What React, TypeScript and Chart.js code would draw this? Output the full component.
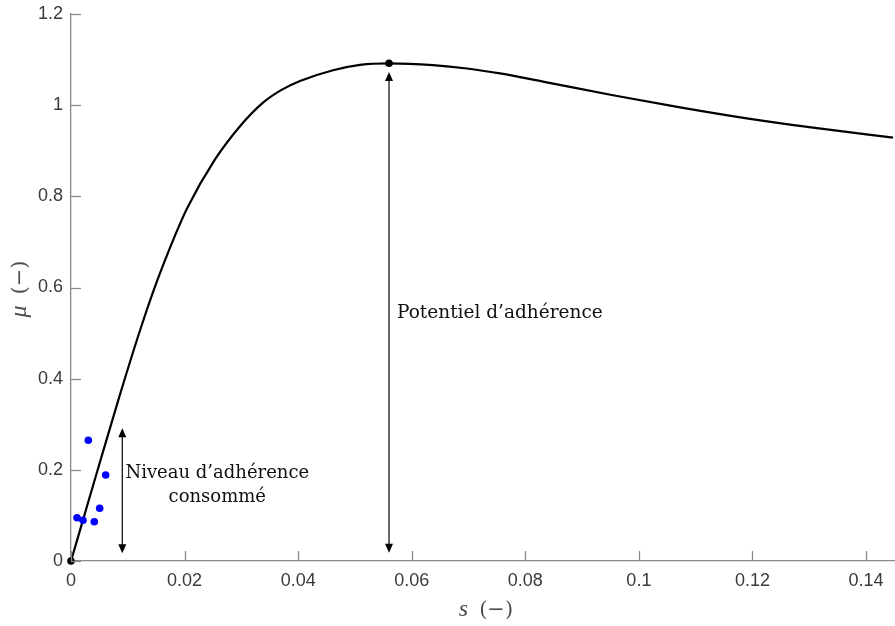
import React, { useEffect, useRef } from "react";
import { Chart, registerables } from "chart.js";

Chart.register(...registerables);

// Friction curve mu(s)
const curveS = [0, 0.002377, 0.004755, 0.008277, 0.011975, 0.014616, 0.018491, 0.020428, 0.025359, 0.029761, 0.033812, 0.03707, 0.040327, 0.046139, 0.050893, 0.056, 0.063749, 0.069737, 0.075548, 0.083772, 0.095448, 0.107247, 0.118993, 0.130668, 0.144757];
const curveMu = [0, 0.1013, 0.2025, 0.3508, 0.4991, 0.5961, 0.7192, 0.7735, 0.881, 0.9539, 1.0055, 1.0335, 1.053, 1.0767, 1.0885, 1.0918, 1.0879, 1.0805, 1.0696, 1.0501, 1.0218, 0.9953, 0.9712, 0.9507, 0.9288];

// Blue measured samples
const sampleS = [0.00305, 0.00611, 0.00505, 0.00106, 0.00211, 0.0041];
const sampleMu = [0.2648, 0.1887, 0.1156, 0.095, 0.0893, 0.0862];

// Black markers (origin and peak)
const markerS = [0, 0.056];
const markerMu = [0, 1.0918];

// Arrows: [s, muFrom, muTo]
const arrowPotentiel = [0.056, 0.018, 1.073];
const arrowNiveau = [0.00903, 0.017, 0.291];

// Axis ticks
const xTicks = [0, 0.02, 0.04, 0.06, 0.08, 0.1, 0.12, 0.14];
const yTicks = [0, 0.2, 0.4, 0.6, 0.8, 1, 1.2];
const xMax = 0.1451;
const yMax = 1.2;

const labelPotentiel = "Potentiel d\u2019adh\u00e9rence";
const labelNiveau = ["Niveau d\u2019adh\u00e9rence", "consomm\u00e9"];

const AXIS_COLOR = "#8a8a8a";
const TICK_TEXT = "#3a3a3a";
const TITLE_COLOR = "#4d4d4d";

const fmt = (v: number) => parseFloat(Number(v).toFixed(4)).toString();

function drawArrow(ctx: CanvasRenderingContext2D, x: number, yTop: number, yBot: number) {
  const hl = 9;
  const hw = 4;
  ctx.save();
  ctx.strokeStyle = "#000";
  ctx.fillStyle = "#000";
  ctx.lineWidth = 1.2;
  ctx.beginPath();
  ctx.moveTo(x, yTop + hl - 1);
  ctx.lineTo(x, yBot - hl + 1);
  ctx.stroke();
  ctx.beginPath();
  ctx.moveTo(x, yTop);
  ctx.lineTo(x - hw, yTop + hl);
  ctx.lineTo(x + hw, yTop + hl);
  ctx.closePath();
  ctx.fill();
  ctx.beginPath();
  ctx.moveTo(x, yBot);
  ctx.lineTo(x - hw, yBot - hl);
  ctx.lineTo(x + hw, yBot - hl);
  ctx.closePath();
  ctx.fill();
  ctx.restore();
}

const overlayPlugin = {
  id: "overlay",
  afterDraw(chart: any) {
    const ctx: CanvasRenderingContext2D = chart.ctx;
    const xs = chart.scales.x;
    const ys = chart.scales.y;
    const area = chart.chartArea;

    // inward tick marks
    ctx.save();
    ctx.strokeStyle = AXIS_COLOR;
    ctx.lineWidth = 1.3;
    xTicks.forEach((t) => {
      const px = Math.round(xs.getPixelForValue(t)) + 0.5;
      ctx.beginPath();
      ctx.moveTo(px, area.bottom);
      ctx.lineTo(px, area.bottom - 10);
      ctx.stroke();
    });
    yTicks.forEach((t) => {
      const py = Math.round(ys.getPixelForValue(t)) + 0.5;
      ctx.beginPath();
      ctx.moveTo(area.left, py);
      ctx.lineTo(area.left + 10, py);
      ctx.stroke();
    });
    ctx.restore();

    // arrows
    const pa = arrowPotentiel;
    const xa = xs.getPixelForValue(pa[0]);
    drawArrow(ctx, xa, ys.getPixelForValue(pa[2]), ys.getPixelForValue(pa[1]));
    const na = arrowNiveau;
    const xn = xs.getPixelForValue(na[0]);
    drawArrow(ctx, xn, ys.getPixelForValue(na[2]), ys.getPixelForValue(na[1]));

    // annotation texts
    ctx.save();
    ctx.fillStyle = "#111";
    ctx.textBaseline = "alphabetic";
    ctx.textAlign = "left";
    ctx.font = "18.5px 'DejaVu Serif'";
    ctx.fillText(labelPotentiel, xa + 8, 318);
    ctx.font = "18px 'DejaVu Serif'";
    ctx.textAlign = "center";
    ctx.fillText(labelNiveau[0], xn + 95, 478);
    ctx.fillText(labelNiveau[1], xn + 95, 502);
    ctx.restore();

    // axis titles: italic variable + upright unit
    const drawTitle = (cx: number, cy: number, sym: string, rot: number) => {
      ctx.save();
      ctx.translate(cx, cy);
      ctx.rotate(rot);
      ctx.fillStyle = TITLE_COLOR;
      ctx.textBaseline = "middle";
      ctx.textAlign = "left";
      const fItal = "italic 24px 'Liberation Serif'";
      const fUp = "21px 'DejaVu Serif'";
      const gap = 11;
      ctx.font = fItal;
      const w1 = ctx.measureText(sym).width;
      ctx.font = fUp;
      const rest = "(\u2212)";
      const w2 = ctx.measureText(rest).width;
      const start = -(w1 + gap + w2) / 2;
      ctx.font = fItal;
      ctx.fillText(sym, start, 0);
      ctx.font = fUp;
      ctx.fillText(rest, start + w1 + gap, 1);
      ctx.restore();
    };
    drawTitle(486, 610, "s", 0);
    drawTitle(20, 289, "\u03bc", -Math.PI / 2);
  },
};

export default function App() {
  const ref = useRef<HTMLCanvasElement | null>(null);

  useEffect(() => {
    if (!ref.current) return;
    const chart = new Chart(ref.current, {
      type: "scatter",
      data: {
        datasets: [
          {
            label: "mu",
            data: curveS.map((s, i) => ({ x: s, y: curveMu[i] })),
            showLine: true,
            borderColor: "#000",
            borderWidth: 2.2,
            pointRadius: 0,
            cubicInterpolationMode: "monotone",
            fill: false,
            order: 3,
          } as any,
          {
            label: "samples",
            data: sampleS.map((s, i) => ({ x: s, y: sampleMu[i] })),
            backgroundColor: "#0000ff",
            borderColor: "#0000ff",
            borderWidth: 0,
            pointRadius: 3.8,
            order: 2,
          },
          {
            label: "markers",
            data: markerS.map((s, i) => ({ x: s, y: markerMu[i] })),
            backgroundColor: "#000",
            borderColor: "#000",
            borderWidth: 0,
            pointRadius: 3.8,
            order: 1,
          },
        ],
      },
      options: {
        responsive: false,
        animation: false,
        clip: false as any,
        layout: { autoPadding: false, padding: { top: 14, right: 0, left: 0, bottom: 0 } },
        plugins: {
          legend: { display: false },
          tooltip: { enabled: false },
        },
        scales: {
          x: {
            type: "linear",
            min: 0,
            max: xMax,
            grid: { display: false, drawTicks: false },
            border: { display: true, color: AXIS_COLOR, width: 1.3 },
            ticks: {
              stepSize: 0.02,
              includeBounds: false,
              padding: 9,
              color: TICK_TEXT,
              font: { family: "'Liberation Sans'", size: 18 },
              maxRotation: 0,
              autoSkip: false,
              callback: (v: any) => fmt(v),
            },
            afterFit: (s: any) => {
              s.height = 65;
              s.paddingLeft = 0;
              s.paddingRight = 0;
            },
          },
          y: {
            type: "linear",
            min: 0,
            max: yMax,
            grid: { display: false, drawTicks: false },
            border: { display: true, color: AXIS_COLOR, width: 1.3 },
            ticks: {
              stepSize: 0.2,
              padding: 8,
              color: TICK_TEXT,
              font: { family: "'Liberation Sans'", size: 18 },
              autoSkip: false,
              callback: (v: any) => fmt(v),
            },
            afterFit: (s: any) => {
              s.width = 71;
              s.paddingTop = 0;
              s.paddingBottom = 0;
            },
          },
        },
      },
      plugins: [overlayPlugin],
    });
    return () => chart.destroy();
  }, []);

  return (
    <div style={{ position: "absolute", left: 0, top: 0, width: 895, height: 626, background: "#fff" }}>
      <canvas ref={ref} width={895} height={626} style={{ display: "block" }} />
    </div>
  );
}
